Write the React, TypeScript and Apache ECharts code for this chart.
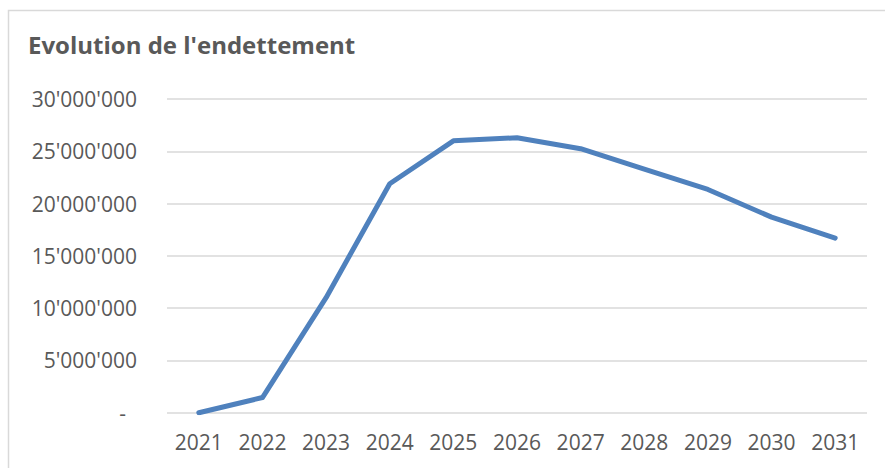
import React, { useEffect, useRef } from "react";
import * as echarts from "echarts";

const title = "Evolution de l'endettement";
const years = ["2021", "2022", "2023", "2024", "2025", "2026", "2027", "2028", "2029", "2030", "2031"];
const debt = [0, 1450000, 11000000, 21900000, 26000000, 26300000, 25250000, 23300000, 21350000, 18700000, 16700000];
const yTicks = [0, 5000000, 10000000, 15000000, 20000000, 25000000, 30000000];

function fmt(v: number): string {
  if (v === 0) return "-\u00a0\u00a0";
  return String(Math.round(v)).replace(/\B(?=(\d{3})+(?!\d))/g, "'");
}

export default function App() {
  const ref = useRef<HTMLDivElement>(null);
  useEffect(() => {
    if (!ref.current) return;
    const chart = echarts.init(ref.current, undefined, { renderer: "svg" });
    chart.setOption({
      animation: false,
      backgroundColor: "#ffffff",
      textStyle: { fontFamily: "Open Sans" },
      title: {
        text: title,
        left: 23,
        top: 27,
        textStyle: { fontFamily: "Open Sans", fontWeight: "bold", fontSize: 24, color: "#595959" },
      },
      graphic: [
        {
          type: "rect",
          shape: { x: 8.5, y: 10.5, width: 1000, height: 1000 },
          style: { fill: "none", stroke: "#d9d9d9", lineWidth: 1.5 },
          silent: true,
        },
      ],
      grid: { left: 167, right: 18, top: 99, bottom: 55.3, containLabel: false },
      xAxis: {
        type: "category",
        data: years,
        boundaryGap: true,
        axisLine: { show: false },
        axisTick: { show: false },
        axisLabel: { color: "#595959", fontSize: 21, margin: 19, fontFamily: "Open Sans" },
      },
      yAxis: {
        type: "value",
        min: yTicks[0],
        max: yTicks[yTicks.length - 1],
        interval: yTicks[1] - yTicks[0],
        axisLine: { show: false },
        axisTick: { show: false },
        splitLine: { lineStyle: { color: "#d9d9d9", width: 1.5 } },
        axisLabel: { color: "#595959", fontSize: 21, margin: 30, fontFamily: "Open Sans", formatter: (v: number) => fmt(v) },
      },
      series: [
        {
          type: "line",
          data: debt,
          showSymbol: false,
          symbol: "none",
          lineStyle: { color: "#4F81BD", width: 5, cap: "round", join: "round" },
          itemStyle: { color: "#4F81BD" },
        },
      ],
    });
    return () => chart.dispose();
  }, []);
  return (
    <div
      ref={ref}
      style={{ position: "fixed", left: 0, top: 0, width: 885, height: 468, background: "#fff" }}
    />
  );
}
